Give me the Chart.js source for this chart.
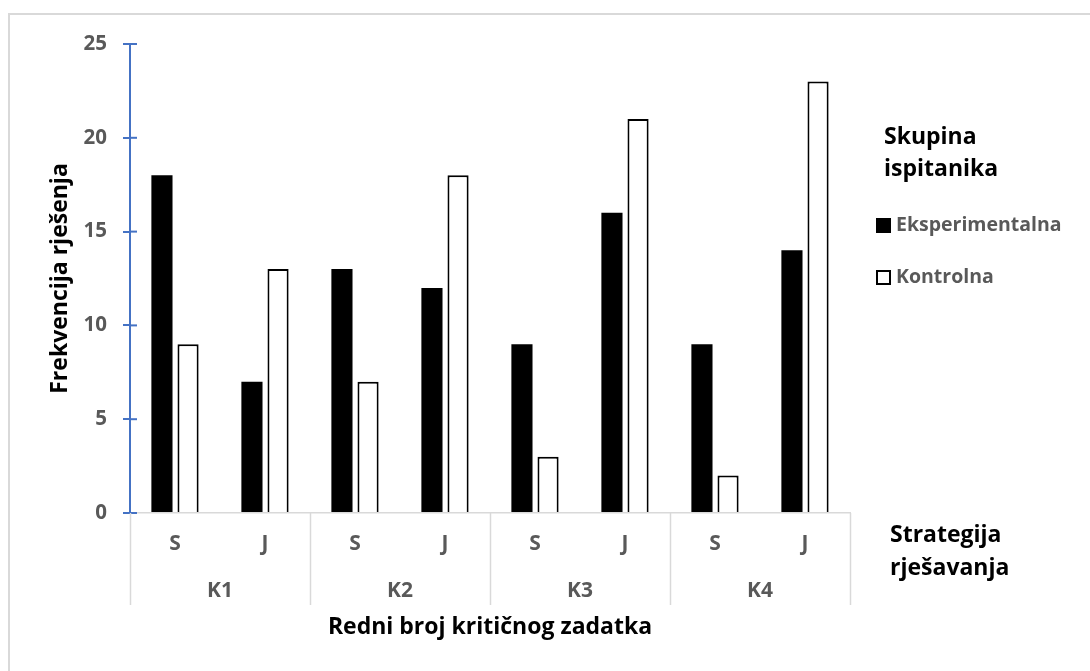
<!DOCTYPE html>
<html lang="hr">
<head>
  <meta charset="UTF-8">
  <title>Frekvencija rješenja</title>
  <script src="https://cdn.jsdelivr.net/npm/chart.js"></script>
  <style>
    body {
      margin: 0;
      background: #fff;
      font-family: "Open Sans", sans-serif;
    }
    .frame {
      position: relative;
      width: 1090px;
      height: 671px;
    }
    /* light frame: only top and left edges are visible */
    .frame::before {
      content: "";
      position: absolute;
      left: 8px;
      top: 13px;
      right: 0;
      bottom: 0;
      border-left: 2px solid #d9d9d9;
      border-top: 2px solid #d9d9d9;
    }
    canvas {
      position: relative;
    }
  </style>
</head>
<body>
  <div class="frame">
    <canvas id="chart"></canvas>
  </div>

  <script>
    // data
    const strategies = ['S', 'J', 'S', 'J', 'S', 'J', 'S', 'J'];
    const tasks = ['K1', 'K2', 'K3', 'K4'];
    const experimental = [18, 7, 13, 12, 9, 16, 9, 14];
    const control = [9, 13, 7, 18, 3, 21, 2, 23];
    const seriesNames = ['Eksperimentalna', 'Kontrolna'];
    const legendTitle = ['Skupina', 'ispitanika'];
    const strategyTitle = ['Strategija', 'rješavanja'];
    const yTitle = 'Frekvencija rješenja';
    const xTitle = 'Redni broj kritičnog zadatka';

    const FONT = "'Open Sans', sans-serif";
    const GREY = '#595959';
    const BLUE = '#4472c4';
    const LINE = '#d9d9d9';

    Chart.defaults.font.family = FONT;

    // tick marks that cross the value axis, group separators and side texts
    const extras = {
      id: 'extras',
      afterDraw(chart) {
        const ctx = chart.ctx;
        const area = chart.chartArea;
        const y = chart.scales.y;
        const x2 = chart.scales.x2;
        ctx.save();

        ctx.strokeStyle = BLUE;
        ctx.lineWidth = 2;
        y.ticks.forEach(t => {
          const py = y.getPixelForValue(t.value);
          ctx.beginPath();
          ctx.moveTo(area.left, py);
          ctx.lineTo(area.left + 7, py);
          ctx.stroke();
        });

        ctx.strokeStyle = LINE;
        ctx.lineWidth = 1.5;
        const w = (x2.right - x2.left) / tasks.length;
        for (let i = 0; i <= tasks.length; i++) {
          const px = Math.round(x2.left + i * w) + 0.5;
          ctx.beginPath();
          ctx.moveTo(px, area.bottom);
          ctx.lineTo(px, x2.top + 45);
          ctx.stroke();
        }

        ctx.textAlign = 'left';
        ctx.textBaseline = 'middle';
        ctx.fillStyle = '#000';
        ctx.font = 'bold 23px ' + FONT;
        legendTitle.forEach((t, i) => ctx.fillText(t, 884, 137 + i * 32));
        strategyTitle.forEach((t, i) => ctx.fillText(t, 890, 535 + i * 33));

        ctx.font = 'bold 19.5px ' + FONT;
        chart.data.datasets.forEach((ds, i) => {
          const cy = 225 + i * 52;
          ctx.fillStyle = ds.backgroundColor;
          ctx.fillRect(876, cy - 7, 15, 15);
          if (ds.borderWidth) {
            ctx.strokeStyle = ds.borderColor;
            ctx.lineWidth = 2;
            ctx.strokeRect(877, cy - 6, 13, 13);
          }
          ctx.fillStyle = GREY;
          ctx.fillText(ds.label, 896, cy);
        });
        ctx.restore();
      }
    };

    new Chart(document.getElementById('chart'), {
      type: 'bar',
      data: {
        labels: strategies,
        datasets: [
          {
            label: seriesNames[0],
            data: experimental,
            backgroundColor: '#000000',
            borderColor: '#000000',
            borderWidth: 0
          },
          {
            label: seriesNames[1],
            data: control,
            backgroundColor: '#ffffff',
            borderColor: '#000000',
            borderWidth: 2
          }
        ]
      },
      options: {
        responsive: true,
        maintainAspectRatio: false,
        animation: false,
        categoryPercentage: 0.58,
        barPercentage: 0.81,
        layout: { padding: { left: 0, top: 44, right: 240, bottom: 21 } },
        plugins: {
          legend: { display: false },
          tooltip: { enabled: false }
        },
        scales: {
          x: {
            type: 'category',
            position: 'bottom',
            weight: 0,
            offset: true,
            grid: { display: false, drawTicks: false },
            border: { color: LINE, width: 1.5 },
            ticks: {
              color: GREY,
              padding: 18,
              font: { size: 21, weight: 'bold' }
            },
            afterFit: s => { s.height = 47; }
          },
          x2: {
            type: 'category',
            position: 'bottom',
            weight: 1,
            labels: tasks,
            offset: true,
            grid: { display: false, drawTicks: false },
            border: { display: false },
            ticks: {
              color: GREY,
              padding: 18,
              font: { size: 21, weight: 'bold' }
            },
            title: {
              display: true,
              text: xTitle,
              color: '#000',
              padding: { top: 0, bottom: 9 },
              font: { size: 23, weight: 'bold' }
            },
            afterFit: s => { s.height = 90; }
          },
          y: {
            min: 0,
            max: 25,
            ticks: {
              stepSize: 5,
              color: GREY,
              padding: 16,
              font: { size: 20.5, weight: 'bold' }
            },
            grid: {
              drawOnChartArea: false,
              drawTicks: true,
              tickLength: 7,
              color: BLUE,
              lineWidth: 2
            },
            border: { color: BLUE, width: 2 },
            title: {
              display: true,
              text: yTitle,
              color: '#000',
              padding: { top: 47, bottom: 0 },
              font: { size: 23, weight: 'bold' }
            },
            afterFit: s => { s.width = 130; }
          }
        }
      },
      plugins: [extras]
    });
  </script>
</body>
</html>
